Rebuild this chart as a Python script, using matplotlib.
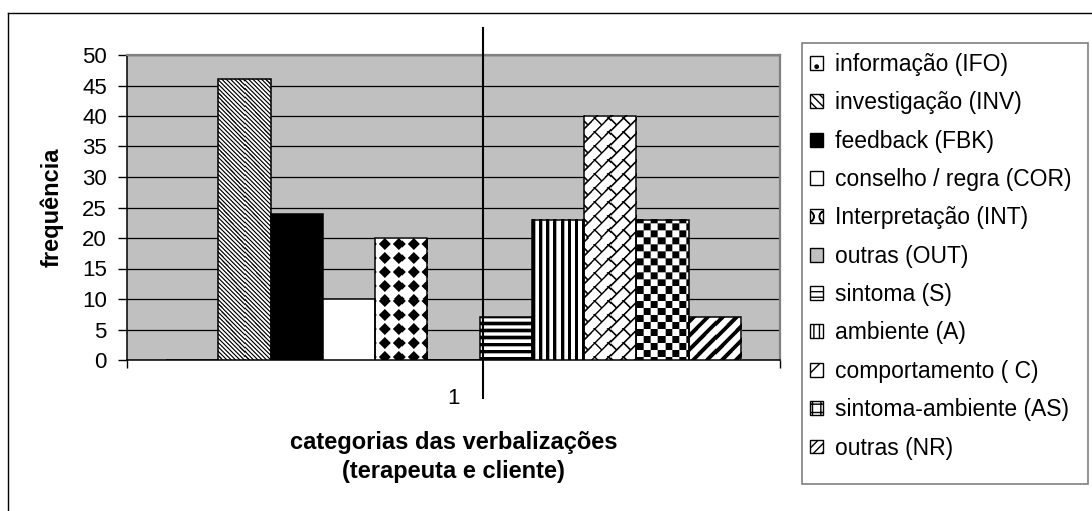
import matplotlib

matplotlib.use("Agg")
import matplotlib.pyplot as plt
import numpy as np
from matplotlib.lines import Line2D
from matplotlib.patches import Patch, Rectangle

plt.rcParams["font.family"] = ["Liberation Sans", "DejaVu Sans"]

# one category on the x axis, eleven verbalisation classes as series
categories = ["1"]
series_codes = ["IFO", "INV", "FBK", "COR", "INT", "OUT", "S", "A", "C", "AS", "NR"]
series_labels = [
    "informação (IFO)",
    "investigação (INV)",
    "feedback (FBK)",
    "conselho / regra (COR)",
    "Interpretação (INT)",
    "outras (OUT)",
    "sintoma (S)",
    "ambiente (A)",
    "comportamento ( C)",
    "sintoma-ambiente (AS)",
    "outras (NR)",
]
frequencies = [0, 46, 24, 10, 20, 0, 7, 23, 40, 23, 7]
y_ticks = [0, 5, 10, 15, 20, 25, 30, 35, 40, 45, 50]

PLOT_GRAY = "#c0c0c0"
FRAME_GRAY = "#808080"
GAP_WIDTH = 1.5  # gap between groups, in bar widths
W, H = 1092, 511  # figure size in pixels


# pixel textures (x to the right, y downwards, in figure pixels); True = ink
def _brick(X, Y):
    bx = np.mod(X / 1.75, 8)
    by = np.mod(Y / 1.75, 8)
    slant = np.abs(np.mod(bx + by + 4, 8) - 4) < 0.65
    joint = (np.abs(bx - by) < 0.65) & (by > 3.5)
    return slant | joint


def _sphere(X, Y, period=14.0):
    cx = np.mod(X, period) - period / 2
    cy = np.mod(Y, period) - period / 2
    return np.abs(cx) + np.abs(cy) < 0.43 * period


TEXTURES = {
    "IFO": lambda X, Y: (np.mod(X, 8) < 1.2) & (np.mod(Y, 8) < 1.2),
    "INV": lambda X, Y: np.mod(X - Y, 4.3) < 1.7,
    "INT": _sphere,
    "S": lambda X, Y: np.mod(Y, 7) < 3.5,
    "A": lambda X, Y: np.mod(X, 7) < 3.2,
    "C": _brick,
    "AS": lambda X, Y: (np.floor(X / 7) + np.floor(Y / 7)) % 2 == 0,
    "NR": lambda X, Y: np.mod(X + Y, 14) < 5.5,
}
SOLID_FACES = {"FBK": "black", "COR": "white", "OUT": PLOT_GRAY}

LEGEND_STYLE = {
    "IFO": dict(facecolor="white", hatch="."),
    "INV": dict(facecolor="white", hatch="\\\\\\\\"),
    "FBK": dict(facecolor="black"),
    "COR": dict(facecolor="white"),
    "INT": dict(facecolor="white", hatch="O"),
    "OUT": dict(facecolor=PLOT_GRAY),
    "S": dict(facecolor="white", hatch="---"),
    "A": dict(facecolor="white", hatch="|||"),
    "C": dict(facecolor="white", hatch="//"),
    "AS": dict(facecolor="white", hatch="++"),
    "NR": dict(facecolor="white", hatch="////"),
}


def texture_image(ax, rect, texture, supersample=3):
    """Fill a bar rectangle with a pixel texture drawn as an image."""
    fig_h = ax.figure.bbox.height
    x0, y0 = rect.get_x(), rect.get_y()
    x1, y1 = x0 + rect.get_width(), y0 + rect.get_height()
    (px0, py0), (px1, py1) = ax.transData.transform([(x0, y0), (x1, y1)])
    nx = max(1, int(round(px1 - px0)))
    ny = max(1, int(round(py1 - py0)))
    gx = px0 + (np.arange(nx * supersample) + 0.5) * (px1 - px0) / (nx * supersample)
    gy = (fig_h - py1) + (np.arange(ny * supersample) + 0.5) * (py1 - py0) / (ny * supersample)
    X, Y = np.meshgrid(gx, gy)
    shade = 1.0 - texture(X, Y).astype(float)
    shade = shade.reshape(ny, supersample, nx, supersample).mean(axis=(1, 3))
    ax.imshow(
        shade,
        cmap="gray",
        vmin=0,
        vmax=1,
        extent=(x0, x1, y0, y1),
        origin="upper",
        aspect="auto",
        interpolation="nearest",
        zorder=2.9,
    )


fig = plt.figure(figsize=(W / 100, H / 100), dpi=100)
ax = fig.add_axes([127 / W, 1 - 360 / H, 653 / W, 305 / H])
ax.set_facecolor(PLOT_GRAY)

n_series = len(series_codes)
bar_width = 1.0 / (n_series + GAP_WIDTH)
group_start = 1 - 0.5 + GAP_WIDTH / 2 * bar_width
left_edges = group_start + np.arange(n_series) * bar_width

faces = [SOLID_FACES.get(code, "none") for code in series_codes]
ax.set_xlim(0.5, 1.5)
ax.set_ylim(0, 50)
bars = ax.bar(
    left_edges,
    frequencies,
    width=bar_width,
    align="edge",
    color=faces,
    edgecolor="black",
    linewidth=1.1,
    zorder=3,
)
for code, rect in zip(series_codes, bars.patches):
    if code in TEXTURES and rect.get_height() > 0:
        texture_image(ax, rect, TEXTURES[code])
ax.set_xlim(0.5, 1.5)
ax.set_ylim(0, 50)

# axes, grid and ticks
ax.set_axisbelow(True)
ax.yaxis.grid(True, color="black", linewidth=0.9)
ax.set_yticks(y_ticks)
ax.set_xticks([1])
ax.set_xticklabels(categories)
ax.set_xticks([0.5, 1.5], minor=True)
ax.tick_params(axis="y", direction="out", length=6.5, width=1, pad=8, labelsize=16)
ax.tick_params(axis="x", which="major", length=0, pad=20, labelsize=16)
ax.tick_params(axis="x", which="minor", direction="out", length=6, width=1)
for side in ("left", "bottom"):
    ax.spines[side].set_color("black")
    ax.spines[side].set_linewidth(1.1)
for side in ("top", "right"):
    ax.spines[side].set_color(FRAME_GRAY)
    ax.spines[side].set_linewidth(1.6)

ax.set_ylabel("frequência", fontsize=17, fontweight="bold", va="center")
ax.yaxis.set_label_coords(-0.115, 0.5)
ax.set_xlabel(
    "categorias das verbalizações\n(terapeuta e cliente)",
    fontsize=17,
    fontweight="bold",
    va="center",
    linespacing=1.35,
)
ax.xaxis.set_label_coords(0.5, -0.318)

# separator between therapist and client classes
ax.plot([0.545, 0.545], [-0.125, 1.089], transform=ax.transAxes,
        color="black", linewidth=1.5, clip_on=False, zorder=5)

# legend box, then the entries inside it
fig.add_artist(Rectangle((802 / W, 1 - 484 / H), 286 / W, 441 / H,
                         transform=fig.transFigure, facecolor="white",
                         edgecolor=FRAME_GRAY, linewidth=1.2, zorder=1))
handles = [Patch(edgecolor="black", linewidth=1.0, **LEGEND_STYLE[code]) for code in series_codes]
legend = fig.legend(
    handles,
    series_labels,
    loc="upper left",
    bbox_to_anchor=(810 / W, 1 - 53 / H),
    borderaxespad=0,
    borderpad=0,
    fontsize=16.5,
    handlelength=0.55,
    handleheight=0.55,
    handletextpad=0.55,
    labelspacing=0.67,
    frameon=False,
)
legend.set_zorder(2)

# outer chart frame
fig.add_artist(Line2D([8 / W, 1], [1 - 13 / H, 1 - 13 / H], color="black", linewidth=1))
fig.add_artist(Line2D([8 / W, 8 / W], [0, 1 - 13 / H], color="black", linewidth=1))

fig.savefig("out.png", dpi=100)
